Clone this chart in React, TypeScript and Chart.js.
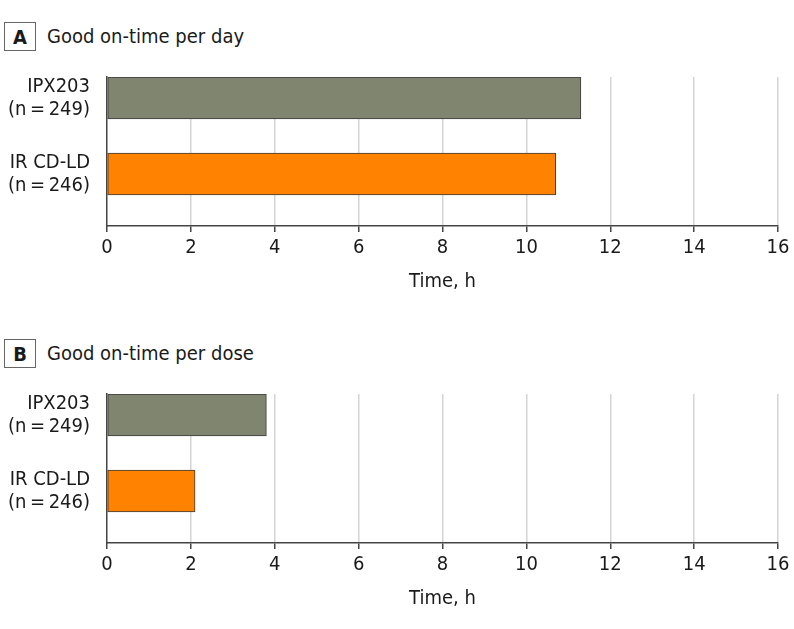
import React, { useEffect, useRef } from "react";
import { Chart, registerables } from "chart.js";

Chart.register(...registerables);

// ---- data ----
const categories: string[][] = [
  ["IPX203", "(n\u2009=\u2009249)"],
  ["IR CD-LD", "(n\u2009=\u2009246)"],
];
const perDayHours = [11.3, 10.7];
const perDoseHours = [3.8, 2.1];
const xTickValues = [0, 2, 4, 6, 8, 10, 12, 14, 16];
const barColors = ["#80856f", "#ff8200"];
const panelLetters = ["A", "B"];
const panelTitles = ["Good on-time per day", "Good on-time per dose"];
const axisTitle = "Time, h";

const FONT = '"DejaVu Sans Condensed", "DejaVu Sans", sans-serif';
const TEXT = "#1a1a1a";
const AXIS = "#444444";

function Panel({ values, top, letter, title }: { values: number[]; top: number; letter: string; title: string }) {
  const ref = useRef<HTMLCanvasElement | null>(null);
  useEffect(() => {
    if (!ref.current) return;
    const chart = new Chart(ref.current, {
      type: "bar",
      data: {
        datasets: [
          {
            data: values.map((v, i) => ({ x: v, y: i })),
            backgroundColor: barColors,
            borderColor: "#3a3a3a",
            borderWidth: 1,
            borderSkipped: false,
            barThickness: 42,
          } as any,
        ],
      },
      options: {
        indexAxis: "y",
        responsive: false,
        animation: false,
        layout: { padding: { top: 17, right: 16, left: 0, bottom: 0 } },
        plugins: { legend: { display: false }, tooltip: { enabled: false } },
        scales: {
          x: {
            type: "linear",
            min: 0,
            max: 16,
            afterBuildTicks: (s: any) => {
              s.ticks = xTickValues.map((v) => ({ value: v }));
            },
            afterFit: (s: any) => {
              s.height = 84;
              s.paddingLeft = 0;
              s.paddingRight = 0;
            },
            ticks: { padding: 4, color: TEXT, font: { family: FONT, size: 20 } },
            grid: {
              color: (ctx: any) => (ctx.index === 0 ? "rgba(0,0,0,0)" : "#d4d4d4"),
              lineWidth: 1.5,
              tickColor: AXIS,
              tickLength: 6,
              tickWidth: 1.5,
            },
            border: { display: true, color: AXIS, width: 1.5 },
            title: {
              display: true,
              text: axisTitle,
              color: TEXT,
              font: { family: FONT, size: 20 },
              padding: { top: 0, bottom: 16 },
            },
          },
          y: {
            type: "linear",
            reverse: true,
            offset: false,
            min: -0.276,
            max: 1.684,
            afterBuildTicks: (s: any) => {
              s.ticks = categories.map((_, i) => ({ value: i }));
            },
            afterFit: (s: any) => {
              s.width = 107;
              s.paddingTop = 0;
              s.paddingBottom = 0;
            },
            ticks: {
              padding: 17,
              color: TEXT,
              font: { family: FONT, size: 20, lineHeight: 1.15 },
              callback: (v: any) => categories[Number(v)] ?? "",
            },
            grid: { display: false, drawTicks: false, tickLength: 0, offset: false },
            border: { display: true, color: AXIS, width: 1.5 },
          },
        },
      } as any,
    });
    return () => chart.destroy();
  }, [values]);

  return (
    <>
      <div
        style={{
          position: "absolute",
          left: 4,
          top: top - 38,
          width: 30,
          height: 27,
          border: "1px solid #666",
          display: "flex",
          alignItems: "center",
          justifyContent: "center",
          fontFamily: FONT,
          fontWeight: "bold",
          fontSize: 20,
          color: TEXT,
        }}
      >
        {letter}
      </div>
      <div
        style={{
          position: "absolute",
          left: 47,
          top: top - 38,
          height: 29,
          lineHeight: "29px",
          fontFamily: FONT,
          fontSize: 20,
          color: TEXT,
          whiteSpace: "nowrap",
        }}
      >
        {title}
      </div>
      <canvas
        ref={ref}
        width={794}
        height={250}
        style={{ position: "absolute", left: 0, top, width: 794, height: 250 }}
      />
    </>
  );
}

export default function App() {
  return (
    <div style={{ position: "absolute", left: 0, top: 0, width: 794, height: 629, background: "#fff" }}>
      <Panel values={perDayHours} top={60} letter={panelLetters[0]} title={panelTitles[0]} />
      <Panel values={perDoseHours} top={377} letter={panelLetters[1]} title={panelTitles[1]} />
    </div>
  );
}
